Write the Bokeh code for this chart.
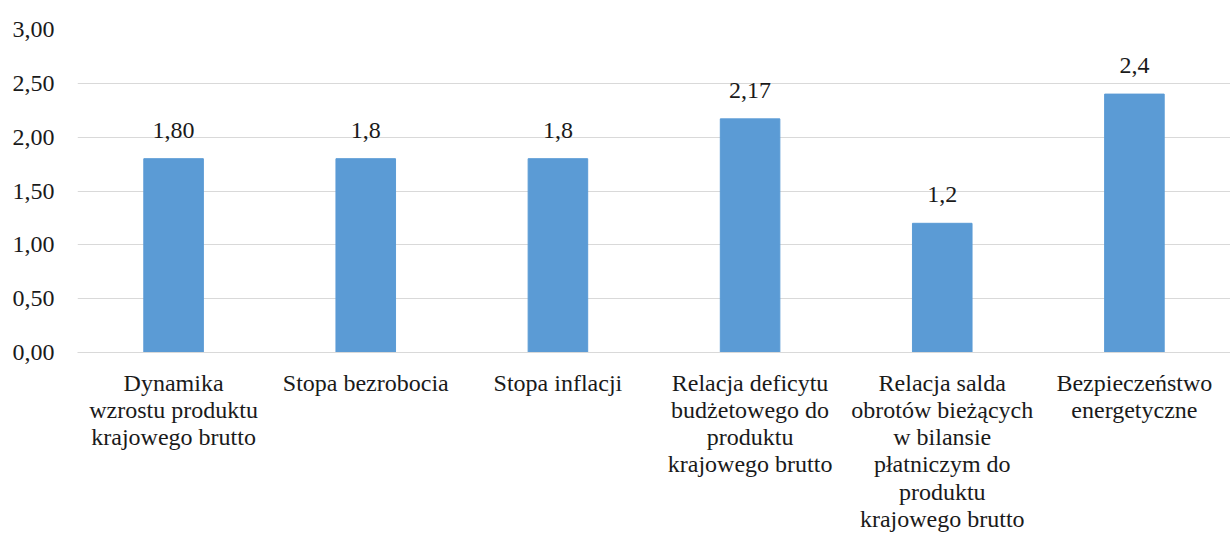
from bokeh.plotting import figure
from bokeh.models import ColumnDataSource, FixedTicker, LabelSet
from bokeh.embed import file_html
from bokeh.resources import INLINE

categories = [
    "Dynamika\nwzrostu produktu\nkrajowego brutto",
    "Stopa bezrobocia",
    "Stopa inflacji",
    "Relacja deficytu\nbudżetowego do\nproduktu\nkrajowego brutto",
    "Relacja salda\nobrotów bieżących\nw bilansie\npłatniczym do\nproduktu\nkrajowego brutto",
    "Bezpieczeństwo\nenergetyczne",
]
values = [1.80, 1.8, 1.8, 2.17, 1.2, 2.4]
value_labels = ["1,80", "1,8", "1,8", "2,17", "1,2", "2,4"]
y_ticks = [0.0, 0.5, 1.0, 1.5, 2.0, 2.5, 3.0]
y_tick_labels = ["0,00", "0,50", "1,00", "1,50", "2,00", "2,50", "3,00"]

FONT = "Liberation Serif"

source = ColumnDataSource(dict(cat=categories, val=values, lab=value_labels))

p = figure(
    x_range=categories, y_range=(0, 3.0),
    width=1230, height=538,
    output_backend="svg", toolbar_location=None,
    min_border_left=77, min_border_right=0, min_border_top=29, min_border_bottom=186,
)
p.outline_line_color = None

p.vbar(x="cat", top="val", width=0.31, source=source,
       fill_color="#5B9BD5", line_color="#5B9BD5")

labels = LabelSet(x="cat", y="val", text="lab", source=source,
                  text_align="center", text_baseline="alphabetic", y_offset=21,
                  text_font=FONT, text_font_size="24px", text_color="#1a1a1a")
p.add_layout(labels)

p.yaxis.ticker = FixedTicker(ticks=y_ticks)
p.yaxis.major_label_overrides = {t: l for t, l in zip(y_ticks, y_tick_labels)}
p.yaxis.axis_line_color = None
p.yaxis.major_tick_line_color = None
p.yaxis.minor_tick_line_color = None
p.yaxis.major_label_text_font = FONT
p.yaxis.major_label_text_font_size = "24px"
p.yaxis.major_label_text_color = "#1a1a1a"
p.yaxis.major_label_standoff = 17

p.xaxis.axis_line_color = "#d9d9d9"
p.xaxis.major_tick_line_color = None
p.xaxis.minor_tick_line_color = None
p.xaxis.major_label_text_font = FONT
p.xaxis.major_label_text_font_size = "24px"
p.xaxis.major_label_text_color = "#1a1a1a"
p.xaxis.major_label_standoff = 11
p.xaxis.major_label_text_line_height = 1.05
p.xaxis.major_label_orientation = "horizontal"

p.xgrid.grid_line_color = None
p.ygrid.grid_line_color = "#d9d9d9"
p.ygrid.grid_line_width = 1

open("out.html", "w").write(file_html(p, INLINE))
